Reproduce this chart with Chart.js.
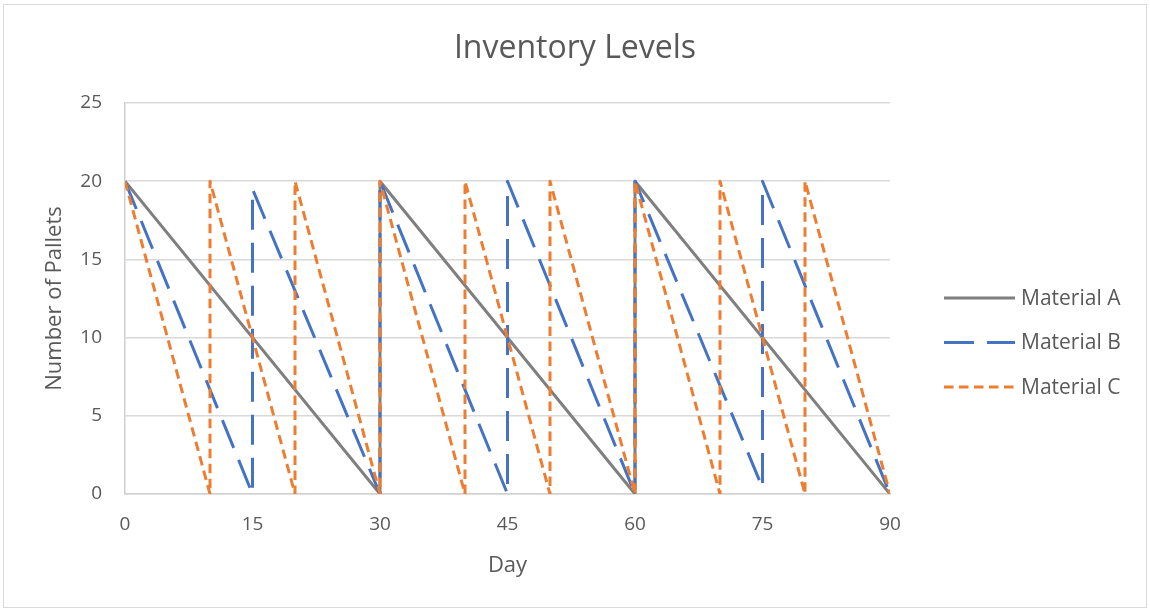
<!DOCTYPE html>
<html>
<head>
<meta charset="utf-8">
<title>Inventory Levels</title>
<script src="https://cdn.jsdelivr.net/npm/chart.js@4/dist/chart.umd.min.js"></script>
<style>
  html, body { margin: 0; padding: 0; background: #ffffff; }
  #wrap { width: 1150px; height: 611px; position: relative; }
</style>
</head>
<body>
<div id="wrap"><canvas id="chart" width="1150" height="611"></canvas></div>
<script>
// Days and pallet counts for each material's reorder cycle
const materialADays   = [0, 30, 30, 60, 60, 90];
const materialALevels = [20, 0, 20, 0, 20, 0];

const materialBDays   = [0, 15, 15, 30, 30, 45, 45, 60, 60, 75, 75, 90];
const materialBLevels = [20, 0, 19.5, 0, 20, 0, 20, 0, 20, 0.4, 20, 0];

const materialCDays   = [0, 10, 10, 20, 20, 30, 30, 40, 40, 50, 50, 60, 60, 70, 70, 80, 80, 90];
const materialCLevels = [20, 0, 20, 0, 20, 0, 20, 0, 20, 0, 20, 0, 20, 0, 20, 0, 20, 0];

const seriesNames = ['Material A', 'Material B', 'Material C'];
const xTicks = [0, 15, 30, 45, 60, 75, 90];
const yTicks = [0, 5, 10, 15, 20, 25];
const chartTitle = 'Inventory Levels';

const toPoints = (xs, ys) => xs.map((x, i) => ({ x: x, y: ys[i] }));

const textColor = '#595959';
const fontFamily = "'Open Sans', 'Noto Sans', sans-serif";

// Chart frame, the title centred on the whole canvas, and the legend at the right
const framePlugin = {
  id: 'frame',
  beforeDraw(chart) {
    const ctx = chart.ctx;
    ctx.save();
    ctx.fillStyle = '#ffffff';
    ctx.fillRect(0, 0, chart.width, chart.height);
    ctx.strokeStyle = '#d9d9d9';
    ctx.lineWidth = 1;
    ctx.strokeRect(3.5, 4.5, chart.width - 7, chart.height - 8);
    ctx.fillStyle = textColor;
    ctx.font = "32px " + fontFamily;
    ctx.textAlign = 'center';
    ctx.textBaseline = 'middle';
    ctx.fillText(chartTitle, chart.width / 2, 49);
    ctx.restore();
  },
  afterDraw(chart) {
    const ctx = chart.ctx;
    const rows = [298, 342.5, 387];
    ctx.save();
    chart.data.datasets.forEach((ds, i) => {
      const y = rows[i];
      ctx.beginPath();
      ctx.setLineDash(ds.borderDash || []);
      ctx.lineWidth = ds.borderWidth;
      ctx.strokeStyle = ds.borderColor;
      ctx.lineCap = 'butt';
      ctx.moveTo(944, y);
      ctx.lineTo(1015, y);
      ctx.stroke();
      ctx.setLineDash([]);
      ctx.fillStyle = textColor;
      ctx.font = "21px " + fontFamily;
      ctx.textAlign = 'left';
      ctx.textBaseline = 'middle';
      ctx.fillText(ds.label, 1021, y + 1);
    });
    ctx.restore();
  }
};

const commonLine = {
  pointRadius: 0,
  pointHoverRadius: 0,
  borderWidth: 3,
  tension: 0,
  fill: false,
  borderJoinStyle: 'round'
};

new Chart(document.getElementById('chart'), {
  type: 'line',
  data: {
    datasets: [
      Object.assign({}, commonLine, {
        label: seriesNames[0],
        data: toPoints(materialADays, materialALevels),
        borderColor: '#7f7f7f',
        borderDash: [],
        order: 3
      }),
      Object.assign({}, commonLine, {
        label: seriesNames[1],
        data: toPoints(materialBDays, materialBLevels),
        borderColor: '#4472c4',
        borderDash: [30, 13],
        order: 2
      }),
      Object.assign({}, commonLine, {
        label: seriesNames[2],
        data: toPoints(materialCDays, materialCLevels),
        borderColor: '#ed7d31',
        borderDash: [9.5, 5.5],
        order: 1
      })
    ]
  },
  options: {
    responsive: false,
    animation: false,
    devicePixelRatio: 1,
    layout: { padding: { top: 103, left: 4, right: 260, bottom: 4 } },
    plugins: {
      legend: { display: false },
      tooltip: { enabled: false },
      title: { display: false }
    },
    scales: {
      x: {
        type: 'linear',
        min: 0,
        max: 90,
        afterBuildTicks(scale) { scale.ticks = xTicks.map(v => ({ value: v })); },
        afterFit(scale) { scale.height = 113; },
        ticks: {
          color: textColor,
          padding: 19,
          font: { family: fontFamily, size: 19 },
          maxRotation: 0
        },
        grid: { display: false, drawTicks: false },
        border: { display: true, color: '#d0d0d0', width: 1.5 },
        title: {
          display: true,
          text: 'Day',
          color: textColor,
          font: { family: fontFamily, size: 22, lineHeight: 1.2 },
          padding: { top: 0, bottom: 27.8 }
        }
      },
      y: {
        type: 'linear',
        min: 0,
        max: 25,
        afterBuildTicks(scale) { scale.ticks = yTicks.map(v => ({ value: v })); },
        afterFit(scale) { scale.width = 121; },
        ticks: {
          color: textColor,
          padding: 23,
          font: { family: fontFamily, size: 19 }
        },
        grid: { color: '#d9d9d9', lineWidth: 1.5, drawTicks: false },
        border: { display: true, color: '#d0d0d0', width: 1.5 },
        title: {
          display: true,
          text: 'Number of Pallets',
          color: textColor,
          font: { family: fontFamily, size: 22, lineHeight: 1.2 },
          padding: { top: 37.8, bottom: 0 }
        }
      }
    }
  },
  plugins: [framePlugin]
});
</script>
</body>
</html>
